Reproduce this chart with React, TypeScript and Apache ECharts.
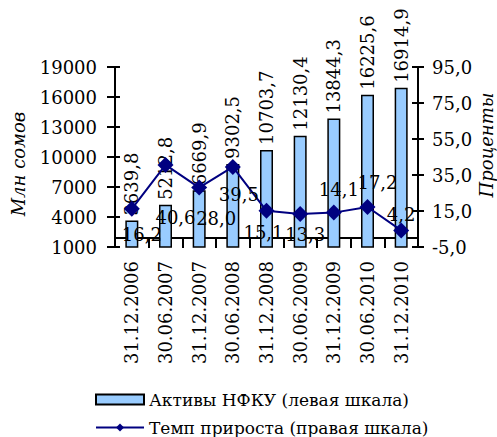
import React, { useEffect, useRef } from "react";
import * as echarts from "echarts";

const categories = [
  "31.12.2006",
  "30.06.2007",
  "31.12.2007",
  "30.06.2008",
  "31.12.2008",
  "30.06.2009",
  "31.12.2009",
  "30.06.2010",
  "31.12.2010",
];
const assets = [3639.8, 5212.8, 6669.9, 9302.5, 10703.7, 12130.4, 13844.3, 16225.6, 16914.9];
const growth = [16.2, 40.6, 28.0, 39.5, 15.1, 13.3, 14.1, 17.2, 4.2];

// label placement offsets for the growth labels (style only)
const growthLabelOffsets: [number, number][] = [
  [10, 26],
  [10, 53],
  [17, 31],
  [6, 28],
  [-3, 22],
  [5, 20],
  [5, -23],
  [10, -25],
  [0, -16],
];

const FONT = "DejaVu Serif";
const fmt1 = (v: number) => v.toFixed(1).replace(".", ",");

export default function App() {
  const ref = useRef<HTMLDivElement>(null);
  useEffect(() => {
    if (!ref.current) return;
    const chart = echarts.init(ref.current, null, { renderer: "svg" });
    const fs = 18;
    const axisCommon = {
      axisLine: { show: true, lineStyle: { color: "#000", width: 2 } },
      splitLine: { show: false },
    };
    const barName = "Активы НФКУ (левая шкала)";
    const lineName = "Темп прироста (правая шкала)";
    chart.setOption({
      animation: false,
      textStyle: { fontFamily: FONT, color: "#000" },
      grid: { left: 115, right: 79, top: 67, bottom: 190 },
      graphic: [
        {
          type: "text",
          x: 18,
          y: 164,
          rotation: Math.PI / 2,
          style: {
            text: "Млн сомов",
            fontFamily: FONT,
            fontStyle: "italic",
            fontSize: fs,
            fill: "#000",
            align: "center",
            verticalAlign: "middle",
          },
        },
        {
          type: "text",
          x: 486,
          y: 145,
          rotation: Math.PI / 2,
          style: {
            text: "Проценты",
            fontFamily: FONT,
            fontStyle: "italic",
            fontSize: fs,
            fill: "#000",
            align: "center",
            verticalAlign: "middle",
          },
        },
      ],
      legend: [
        {
          left: 90,
          top: 386,
          itemWidth: 48,
          itemHeight: 10,
          textStyle: { fontFamily: FONT, fontSize: 17, color: "#000" },
          data: [{ name: barName, icon: "rect" }],
        },
        {
          left: 90,
          top: 414,
          itemWidth: 48,
          itemHeight: 10,
          textStyle: { fontFamily: FONT, fontSize: 17, color: "#000" },
          data: [{ name: lineName }],
        },
      ],
      xAxis: {
        type: "category",
        data: categories,
        boundaryGap: true,
        axisLine: { show: true, lineStyle: { color: "#000", width: 2 } },
        axisTick: { show: true, length: 10, lineStyle: { color: "#000", width: 2 } },
        axisLabel: {
          rotate: 90,
          margin: 14,
          fontSize: fs,
          fontFamily: FONT,
          color: "#000",
          interval: 0,
        },
      },
      yAxis: [
        {
          type: "value",
          position: "left",
          min: 1000,
          max: 19000,
          interval: 3000,
          ...axisCommon,
          axisTick: { show: true, length: 8, lineStyle: { color: "#000", width: 2 } },
          axisLabel: {
            margin: 18,
            fontSize: fs,
            fontFamily: FONT,
            color: "#000",
            formatter: (v: number) => String(v),
          },
        },
        {
          type: "value",
          position: "right",
          min: -5,
          max: 95,
          interval: 20,
          ...axisCommon,
          axisTick: { show: true, length: 6, lineStyle: { color: "#000", width: 2 } },
          axisLabel: {
            margin: 14,
            fontSize: fs,
            fontFamily: FONT,
            color: "#000",
            formatter: (v: number) => fmt1(v),
          },
        },
        {
          type: "value",
          position: "left",
          min: 1000,
          max: 19000,
          interval: 3000,
          axisLine: { show: false },
          splitLine: { show: false },
          axisTick: { show: true, inside: true, length: 5, lineStyle: { color: "#000", width: 2 } },
          axisLabel: { show: false },
        },
        {
          type: "value",
          position: "right",
          min: -5,
          max: 95,
          interval: 20,
          axisLine: { show: false },
          splitLine: { show: false },
          axisTick: { show: true, inside: true, length: 6, lineStyle: { color: "#000", width: 2 } },
          axisLabel: { show: false },
        },
      ],
      series: [
        {
          name: barName,
          type: "bar",
          yAxisIndex: 0,
          data: assets,
          barWidth: 13,
          z: 2,
          itemStyle: { color: "#99CCFF", borderColor: "#000", borderWidth: 1.5 },
          label: {
            show: true,
            position: "top",
            rotate: 90,
            align: "left",
            verticalAlign: "middle",
            distance: 5,
            fontSize: fs,
            fontFamily: FONT,
            color: "#000",
            formatter: (p: any) => fmt1(p.value),
          },
        },
        {
          name: lineName,
          type: "line",
          yAxisIndex: 1,
          z: 3,
          data: growth.map((v, i) => ({
            value: v,
            label: { offset: growthLabelOffsets[i] },
          })),
          symbol: "diamond",
          symbolSize: 16,
          lineStyle: { color: "#000080", width: 2 },
          itemStyle: { color: "#000080" },
          label: {
            show: true,
            position: "inside",
            fontSize: fs,
            fontFamily: FONT,
            color: "#000",
            formatter: (p: any) => fmt1(p.value),
          },
        },
      ],
    });
    return () => chart.dispose();
  }, []);
  return <div ref={ref} style={{ width: 497, height: 437, position: "absolute", left: 0, top: 0 }} />;
}
